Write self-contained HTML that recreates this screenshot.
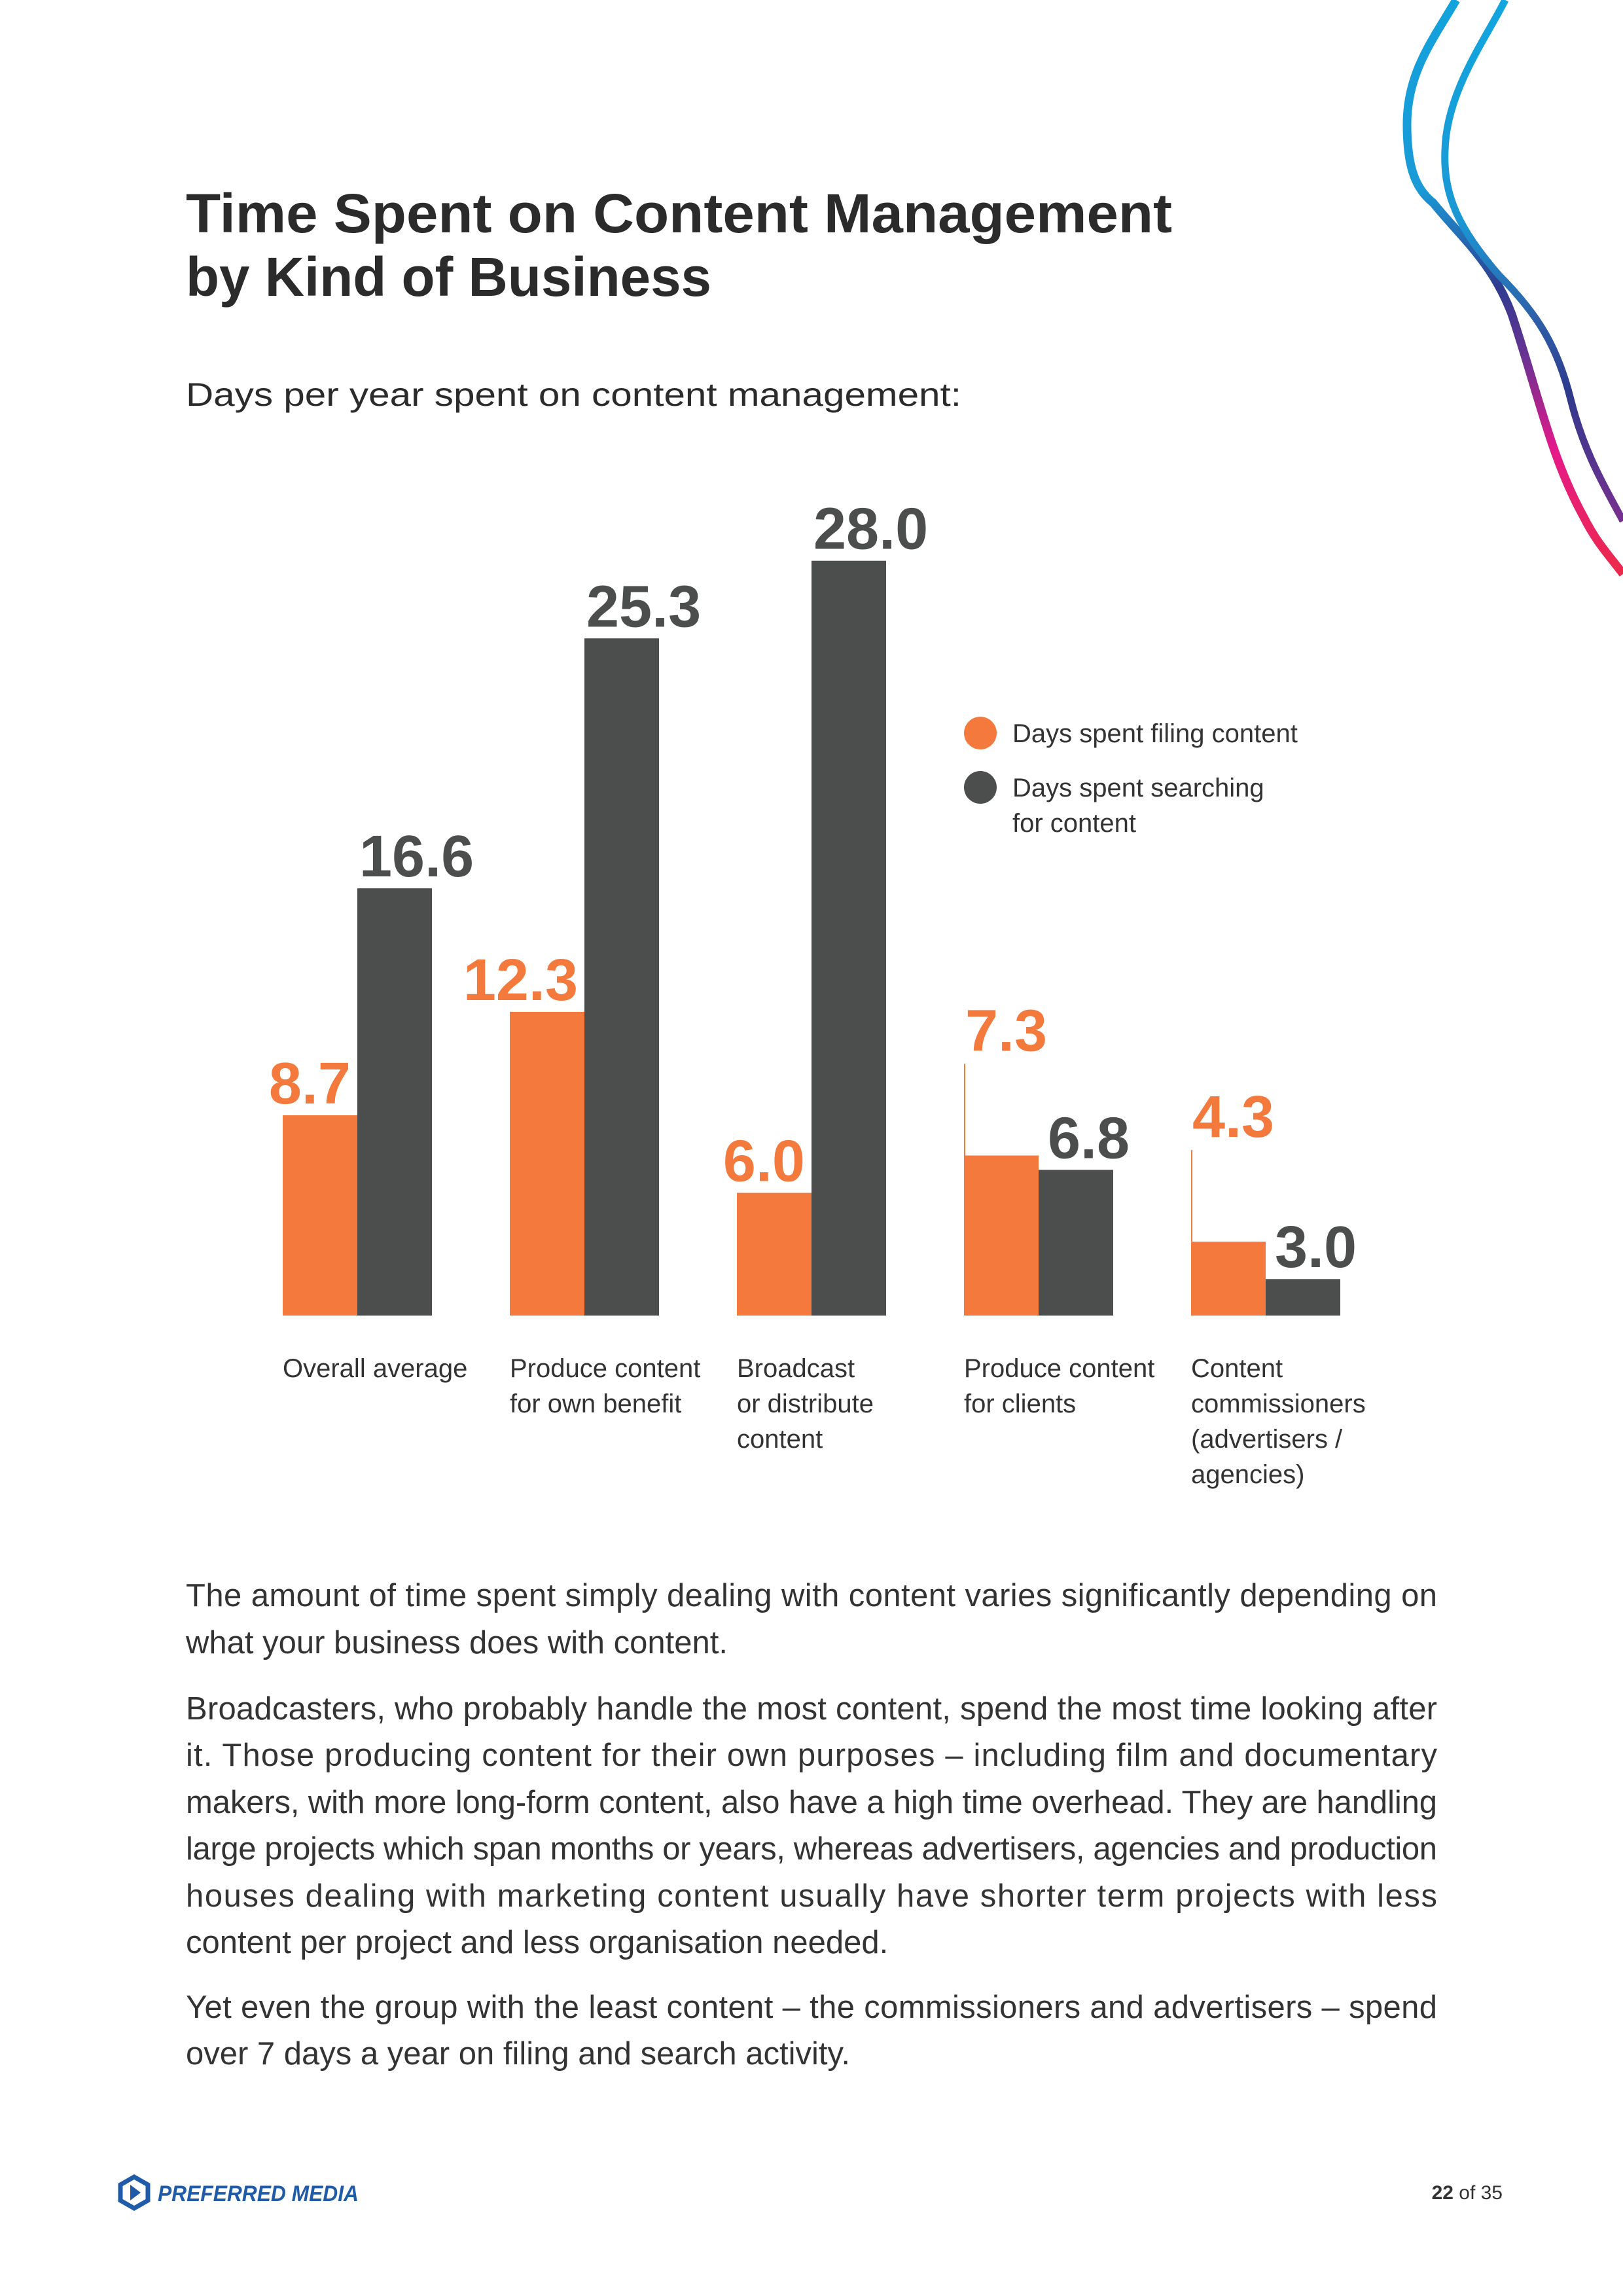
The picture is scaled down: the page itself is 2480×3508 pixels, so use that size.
<!DOCTYPE html>
<html><head><meta charset="utf-8"><style>
html,body{margin:0;padding:0;background:#fff;}
svg{display:block;font-family:"Liberation Sans",sans-serif;}
</style></head><body>
<svg id="page" width="2480" height="3508" viewBox="0 0 2480 3508" xmlns="http://www.w3.org/2000/svg">
<defs>
<linearGradient id="gA" gradientUnits="userSpaceOnUse" x1="0" y1="0" x2="0" y2="880">
<stop offset="0" stop-color="#12a2dc"/><stop offset="0.33" stop-color="#1a9ad6"/><stop offset="0.5" stop-color="#2f3b8f"/><stop offset="0.62" stop-color="#6a3292"/><stop offset="0.78" stop-color="#e4198a"/><stop offset="1" stop-color="#ec2a4a"/>
</linearGradient>
<linearGradient id="gB" gradientUnits="userSpaceOnUse" x1="0" y1="0" x2="0" y2="800">
<stop offset="0" stop-color="#12a6de"/><stop offset="0.42" stop-color="#1a98d4"/><stop offset="0.6" stop-color="#2d62aa"/><stop offset="0.75" stop-color="#2e3a8c"/><stop offset="1" stop-color="#7a2f8f"/>
</linearGradient>
</defs>
<g>
<path d="M2225,0 C2190,60 2150,110 2150,190 C2150,260 2165,290 2190,310 C2230,360 2280,400 2310,480 C2350,600 2370,700 2420,790 C2440,830 2460,850 2480,877" fill="none" stroke="url(#gA)" stroke-width="13"/>
<path d="M2300,0 C2270,60 2210,140 2208,230 C2205,300 2230,350 2290,420 C2350,480 2380,530 2400,610 C2420,690 2450,740 2480,796" fill="none" stroke="url(#gB)" stroke-width="11"/>
</g>
<g fill="#2b2b2b" font-weight="bold">
<text x="284" y="355" font-size="84" textLength="1507" lengthAdjust="spacingAndGlyphs">Time Spent on Content Management</text>
<text x="284" y="452" font-size="84" textLength="803" lengthAdjust="spacingAndGlyphs">by Kind of Business</text>
</g>
<text x="284" y="620" font-size="50" fill="#2b2b2b" textLength="1185" lengthAdjust="spacingAndGlyphs">Days per year spent on content management:</text>

<g id="chart"></g>

<g font-size="40" fill="#333">
<g><circle cx="1498" cy="1120" r="25" fill="#f37a3c"/><text x="1547" y="1134">Days spent filing content</text></g>
<g><circle cx="1498" cy="1203" r="25" fill="#4c4e4d"/><text x="1547" y="1217">Days spent searching</text><text x="1547" y="1271">for content</text></g>
</g>

<g font-size="49" fill="#333">
<text x="284" y="2454" textLength="1912" lengthAdjust="spacing">The amount of time spent simply dealing with content varies significantly depending on</text>
<text x="284" y="2526">what your business does with content.</text>
<text x="284" y="2627" textLength="1912" lengthAdjust="spacing">Broadcasters, who probably handle the most content, spend the most time looking after</text>
<text x="284" y="2698" textLength="1912" lengthAdjust="spacing">it. Those producing content for their own purposes – including film and documentary</text>
<text x="284" y="2770" textLength="1912" lengthAdjust="spacing">makers, with more long-form content, also have a high time overhead. They are handling</text>
<text x="284" y="2841" textLength="1912" lengthAdjust="spacing">large projects which span months or years, whereas advertisers, agencies and production</text>
<text x="284" y="2913" textLength="1912" lengthAdjust="spacing">houses dealing with marketing content usually have shorter term projects with less</text>
<text x="284" y="2984">content per project and less organisation needed.</text>
<text x="284" y="3083" textLength="1912" lengthAdjust="spacing">Yet even the group with the least content – the commissioners and advertisers – spend</text>
<text x="284" y="3154">over 7 days a year on filing and search activity.</text>
</g>

<g>
<path d="M205,3326 L226,3338 L226,3362 L205,3374 L184,3362 L184,3338 Z" fill="none" stroke="#1f5ba8" stroke-width="7"/>
<path d="M199,3338 L215,3350 L199,3362 Z" fill="#1f5ba8"/>
<text x="241" y="3363" font-size="34" font-weight="bold" font-style="italic" fill="#1f5ba8" textLength="307" lengthAdjust="spacingAndGlyphs">PREFERRED MEDIA</text>
</g>
<text x="2296" y="3360" font-size="30" fill="#333" text-anchor="end"><tspan font-weight="bold">22</tspan> of 35</text>
</svg>
<script>
const categories = [["Overall average"],["Produce content","for own benefit"],["Broadcast","or distribute","content"],["Produce content","for clients"],["Content","commissioners","(advertisers /","agencies)"]];
const filingValues = [8.7, 12.3, 6.0, 7.3, 4.3];
const searchingValues = [16.6, 25.3, 28.0, 6.8, 3.0];
const filingLabels = ["8.7","12.3","6.0","7.3","4.3"];
const searchingLabels = ["16.6","25.3","28.0","6.8","3.0"];

const NS = "http://www.w3.org/2000/svg";
const chart = document.getElementById('chart');
const baseY = 2010, yMin = 1.73, pxPerUnit = 43.9;
const x0 = 432, groupStep = 347, barW = 114;
function yScale(v){ return baseY - (v - yMin) * pxPerUnit; }
function xScale(i){ return x0 + i * groupStep; }
function mk(tag, attrs){ const e = document.createElementNS(NS, tag); for (const k in attrs) e.setAttribute(k, attrs[k]); return e; }

categories.forEach((cat, i) => {
  const x = xScale(i);
  const yo = yScale(filingValues[i]);
  const yg = yScale(searchingValues[i]);
  const bo = mk('rect', {x: x, y: yo, width: barW, height: baseY - yo, fill: '#f37a3c'});
  
  
  chart.appendChild(bo);
  const bg = mk('rect', {x: x + barW, y: yg, width: barW, height: baseY - yg, fill: '#4c4e4d'});
  
  
  chart.appendChild(bg);

  const raised = filingValues[i] >= searchingValues[i];
  let lo;
  if (raised) {
    const ly = yo - 160;
    const line = mk('line', {x1: x + 1, y1: ly + 20, x2: x + 1, y2: yo, stroke: '#f37a3c', 'stroke-width': 2});
    
    
    chart.appendChild(line);
    lo = mk('text', {x: x + 2, y: ly, 'font-size': 90, 'font-weight': 'bold', fill: '#f37a3c'});
  } else {
    lo = mk('text', {x: x + barW - 10, y: yo - 18, 'font-size': 90, 'font-weight': 'bold', fill: '#f37a3c', 'text-anchor': 'end'});
  }
  lo.textContent = filingLabels[i];
  
  
  chart.appendChild(lo);

  const lg = mk('text', {x: x + barW + (raised ? 14 : 3), y: yg - 18, 'font-size': 90, 'font-weight': 'bold', fill: '#4c4e4d'});
  lg.textContent = searchingLabels[i];
  
  
  chart.appendChild(lg);

  const t = mk('text', {x: x, y: 2104, 'font-size': 40, fill: '#333'});
  
  
  cat.forEach((ln, j) => { const s = mk('tspan', {x: x, y: 2104 + j * 54}); s.textContent = ln; t.appendChild(s); });
  chart.appendChild(t);
});
</script>
</body></html>
